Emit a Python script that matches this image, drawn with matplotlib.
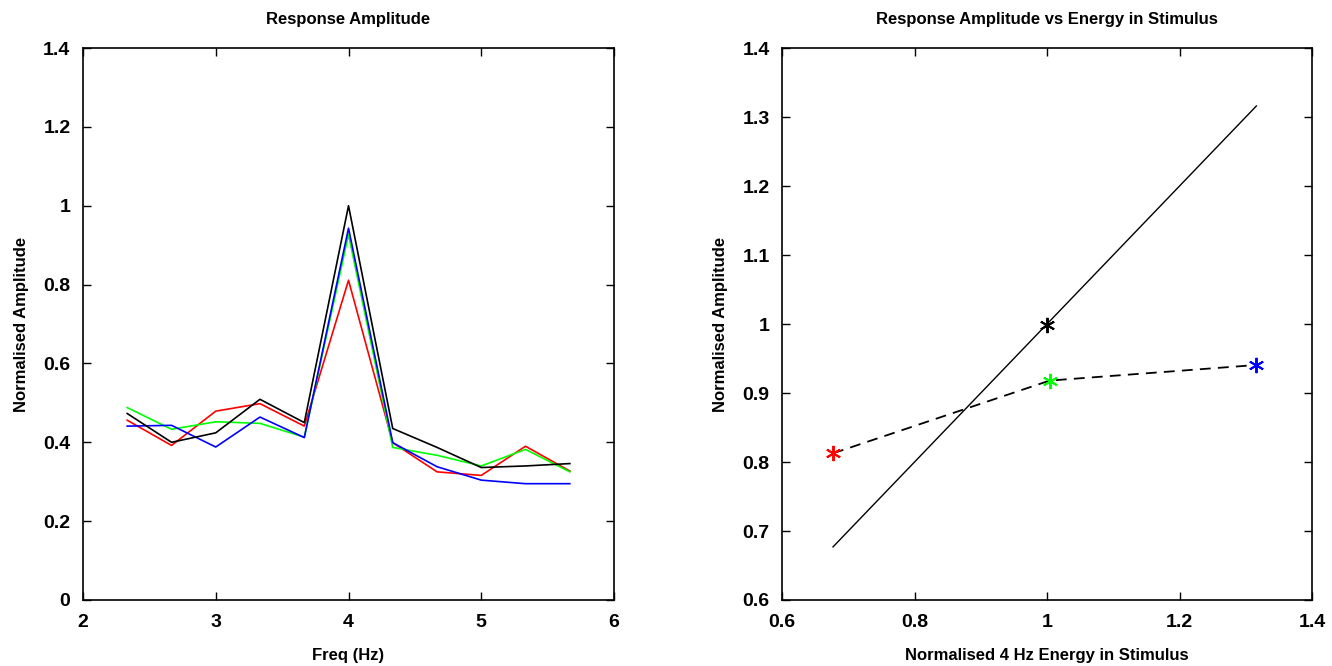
import numpy as np
import matplotlib
matplotlib.use('Agg')
import matplotlib.pyplot as plt

plt.rcParams['font.family'] = ['Liberation Sans', 'DejaVu Sans']
plt.rcParams['font.weight'] = 'bold'

# --- left panel: response amplitude vs frequency ---
freq = [2.333, 2.667, 3.0, 3.333, 3.667, 4.0, 4.333, 4.667, 5.0, 5.333, 5.667]
amp_red   = [0.456, 0.392, 0.479, 0.498, 0.441, 0.811, 0.399, 0.325, 0.316, 0.390, 0.327]
amp_green = [0.488, 0.433, 0.452, 0.448, 0.413, 0.927, 0.387, 0.367, 0.340, 0.382, 0.325]
amp_blue  = [0.441, 0.443, 0.388, 0.464, 0.412, 0.943, 0.399, 0.338, 0.304, 0.295, 0.295]
amp_black = [0.473, 0.400, 0.424, 0.509, 0.450, 1.000, 0.435, 0.387, 0.336, 0.340, 0.346]

# --- right panel: amplitude vs stimulus energy ---
energy     = [0.677, 1.004, 1.316]
response   = [0.8126, 0.918, 0.9406]
point_cols = ['#ff0000', '#00ff00', '#0000ff']
ref_line   = [0.677, 1.316]   # identity line endpoints
ref_point  = (1.0, 0.998)

left_yticks  = [0, 0.2, 0.4, 0.6, 0.8, 1.0, 1.2, 1.4]
left_xticks  = [2, 3, 4, 5, 6]
right_xticks = [0.6, 0.8, 1.0, 1.2, 1.4]
right_yticks = [0.6, 0.7, 0.8, 0.9, 1.0, 1.1, 1.2, 1.3, 1.4]


def style_axes(ax):
    ax.tick_params(direction='in', length=6, width=1, top=True, right=True,
                   labelsize=14)
    ax.tick_params(axis='y', pad=9)
    ax.tick_params(axis='x', pad=10)
    for sp in ax.spines.values():
        sp.set_linewidth(1.2)
    for lab in ax.get_xticklabels() + ax.get_yticklabels():
        lab.set_fontweight('bold')


fig = plt.figure(figsize=(13.32, 6.66), dpi=100)
ax1 = fig.add_axes([0.0623, 0.0991, 0.3987, 0.8288])
ax2 = fig.add_axes([0.5871, 0.0991, 0.3979, 0.8288])

ax1.plot(freq, amp_red, color='#ff0000', lw=1.2)
ax1.plot(freq, amp_green, color='#00ff00', lw=1.2)
ax1.plot(freq, amp_blue, color='#0000ff', lw=1.2)
ax1.plot(freq, amp_black, color='black', lw=1.2)
ax1.set_xlim(2, 6)
ax1.set_ylim(0, 1.4)
ax1.set_xticks(left_xticks)
ax1.set_xticklabels([f"{v:g}" for v in left_xticks])
ax1.set_yticks(left_yticks)
ax1.set_yticklabels([f"{v:g}" for v in left_yticks])
ax1.set_title('Response Amplitude', fontsize=12, fontweight='bold', pad=17)
ax1.set_xlabel('Freq (Hz)', fontsize=12, fontweight='bold', labelpad=12)
ax1.set_ylabel('Normalised Amplitude', fontsize=12, fontweight='bold', labelpad=10)
style_axes(ax1)

ax2.plot(ref_line, ref_line, color='black', lw=1)
ax2.plot(energy, response, color='black', lw=1.3, linestyle=(0, (6, 4)))
ax2.plot(*ref_point, marker=(6, 2, 0), color='black', markersize=11, mew=1.4,
         linestyle='none')
for xv, yv, c in zip(energy, response, point_cols):
    ax2.plot(xv, yv, marker=(6, 2, 0), color=c, markersize=11, mew=1.4,
             linestyle='none')
ax2.set_xlim(0.6, 1.4)
ax2.set_ylim(0.6, 1.4)
ax2.set_xticks(right_xticks)
ax2.set_xticklabels([f"{v:g}" for v in right_xticks])
ax2.set_yticks(right_yticks)
ax2.set_yticklabels([f"{v:g}" for v in right_yticks])
ax2.set_title('Response Amplitude vs Energy in Stimulus', fontsize=12,
              fontweight='bold', pad=17)
ax2.set_xlabel('Normalised 4 Hz Energy in Stimulus', fontsize=12,
               fontweight='bold', labelpad=12)
ax2.set_ylabel('Normalised Amplitude', fontsize=12, fontweight='bold', labelpad=10)
style_axes(ax2)

fig.savefig('out.png', dpi=100)
plt.close(fig)
